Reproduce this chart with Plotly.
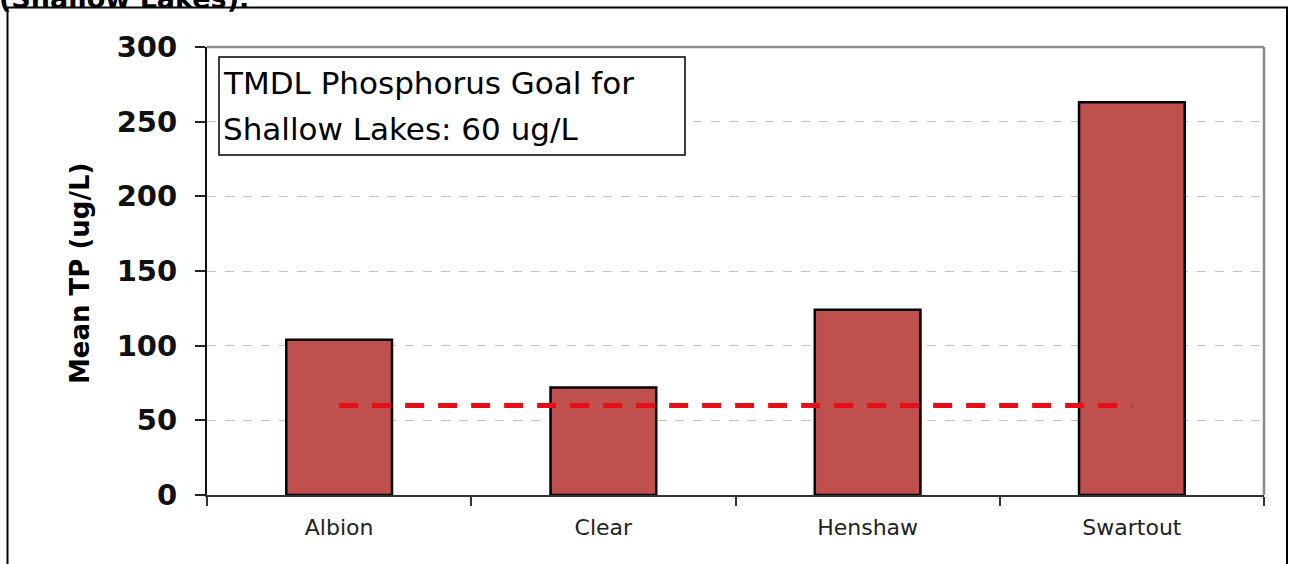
import plotly.graph_objects as go

# ---- data ----
lakes = ["Albion", "Clear", "Henshaw", "Swartout"]
mean_tp = [104, 72, 124, 263]
goal_tp = [60, 60, 60, 60]
y_ticks = [0, 50, 100, 150, 200, 250, 300]
y_range = [0, 300]
y_title = "Mean TP (ug/L)"
box_lines = ["TMDL Phosphorus Goal for", "Shallow Lakes: 60 ug/L"]
cut_title = "(Shallow Lakes)."

# ---- geometry ----
W, H = 1289, 564
L, R, T, B = 207, 25, 47, 69
pw = W - L - R
ph = H - T - B


def px(x):
    return (x - L) / pw


def py(y):
    return (H - B - y) / ph


fig = go.Figure()
fig.add_bar(
    x=lakes, y=mean_tp, width=0.4,
    marker=dict(color="#C0504D", line=dict(color="black", width=2.5)),
    showlegend=False,
)
fig.add_scatter(
    x=lakes, y=goal_tp, mode="lines",
    line=dict(color="#E60F19", width=5, dash="19px,14px"),
    showlegend=False,
)

fig.update_layout(
    width=W, height=H,
    margin=dict(l=L, r=R, t=T, b=B, autoexpand=False),
    paper_bgcolor="white", plot_bgcolor="white",
    xaxis=dict(
        type="category", tickson="boundaries", ticks="outside", ticklen=9,
        tickwidth=1.5, tickcolor="#333",
        showline=True, linecolor="#333", linewidth=2, showgrid=False,
        tickfont=dict(family="DejaVu Sans", size=22, color="#222"),
        ticklabelstandoff=12,
    ),
    yaxis=dict(
        range=y_range, tickvals=y_ticks, ticks="outside", ticklen=10,
        tickwidth=1.5, tickcolor="#222",
        showline=True, linecolor="#111", linewidth=2,
        showgrid=True, gridcolor="#c4c4c4", gridwidth=1, griddash="dash",
        zeroline=False,
        tickfont=dict(family="DejaVu Sans", size=29, color="#111", weight="bold"),
        ticklabelstandoff=12,
    ),
    shapes=[
        dict(type="line", xref="paper", yref="paper", x0=0, x1=1, y0=1, y1=1,
             line=dict(color="#8a8a8a", width=2.5)),
        dict(type="line", xref="paper", yref="paper", x0=1, x1=1, y0=0, y1=1,
             line=dict(color="#8a8a8a", width=2.5)),
        dict(type="rect", xref="paper", yref="paper",
             x0=px(219), x1=px(685), y0=py(155), y1=py(57),
             line=dict(color="black", width=1.5), fillcolor="white"),
        dict(type="rect", xref="paper", yref="paper",
             x0=px(7.5), x1=px(1287), y0=py(580), y1=py(7.5),
             line=dict(color="black", width=2), layer="above"),
    ],
    annotations=[
        dict(text=box_lines[0], xref="paper", yref="paper", x=px(221), y=py(83),
             xanchor="left", yanchor="middle", showarrow=False,
             font=dict(family="DejaVu Sans", size=31, color="black")),
        dict(text=box_lines[1], xref="paper", yref="paper", x=px(221), y=py(129),
             xanchor="left", yanchor="middle", showarrow=False,
             font=dict(family="DejaVu Sans", size=31, color="black")),
        dict(text=y_title, xref="paper", yref="paper", x=px(80), y=py(274),
             xanchor="center", yanchor="middle", textangle=-90, showarrow=False,
             font=dict(family="DejaVu Sans", size=26, color="black", weight="bold")),
        dict(text=cut_title, xref="paper", yref="paper", x=px(-3), y=py(-2),
             xanchor="left", yanchor="middle", showarrow=False,
             font=dict(family="DejaVu Sans", size=27, color="black", weight="bold")),
    ],
)

fig.write_html(
    "out.html",
    config={"displayModeBar": False},
    post_script="document.body.style.margin='0';document.body.style.overflow='hidden';",
)
